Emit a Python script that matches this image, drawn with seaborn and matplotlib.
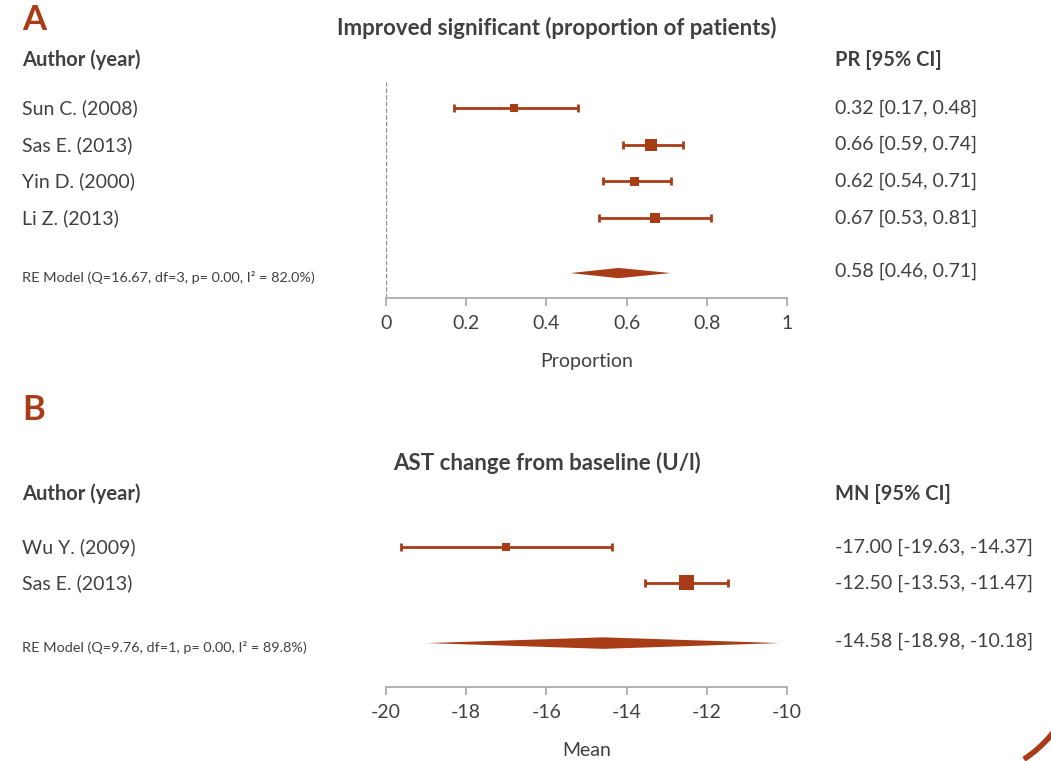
import pandas as pd
import numpy as np
import matplotlib
matplotlib.use('Agg')
import matplotlib.pyplot as plt
import matplotlib.transforms as mtransforms
from matplotlib.patches import Arc
import seaborn as sns

# data - panel A (proportion of patients improved)
a_authors = ['Sun C. (2008)', 'Sas E. (2013)', 'Yin D. (2000)', 'Li Z. (2013)']
a_est = [0.32, 0.66, 0.62, 0.67]
a_lo = [0.17, 0.59, 0.54, 0.53]
a_hi = [0.48, 0.74, 0.71, 0.81]
a_weight = [16, 37, 21, 26]
a_re = [0.58, 0.46, 0.71]
a_re_text = 'RE Model (Q=16.67, df=3, p= 0.00, I\u00b2 = 82.0%)'
a_ticks = [0, 0.2, 0.4, 0.6, 0.8, 1]
a_ticklabels = ['0', '0.2', '0.4', '0.6', '0.8', '1']

# data - panel B (AST change from baseline)
b_authors = ['Wu Y. (2009)', 'Sas E. (2013)']
b_est = [-17.00, -12.50]
b_lo = [-19.63, -13.53]
b_hi = [-14.37, -11.47]
b_weight = [22, 78]
b_re = [-14.58, -18.98, -10.18]
b_re_text = 'RE Model (Q=9.76, df=1, p= 0.00, I\u00b2 = 89.8%)'
b_ticks = [-20, -18, -16, -14, -12, -10]
b_ticklabels = ['-20', '-18', '-16', '-14', '-12', '-10']

RED = '#A83C16'
TXT = '#404040'
GREY = '#A6A6A6'
FS = 14

sns.set_theme(style='white')
plt.rcParams['font.family'] = ['Lato', 'DejaVu Sans']
plt.rcParams['axes.unicode_minus'] = False

fig = plt.figure(figsize=(10.51, 7.61), dpi=100)


def forest(ax, authors, est, lo, hi, weight, re, re_text, fmt, sizes,
           ticks, ticklabels, xlim, ylim, xlabel):
    rows = list(range(1, len(authors) + 1))
    re_row = len(authors) + 1.5 if len(authors) > 2 else len(authors) + 1.67
    df = pd.DataFrame({'author': authors, 'est': est, 'lo': lo, 'hi': hi,
                       'w': weight, 'row': rows})
    # confidence intervals
    ax.errorbar(df['est'], df['row'],
                xerr=[df['est'] - df['lo'], df['hi'] - df['est']],
                fmt='none', ecolor=RED, elinewidth=2, capsize=3, capthick=2,
                zorder=2)
    # study squares sized by weight
    sns.scatterplot(data=df, x='est', y='row', size='w', sizes=sizes,
                    marker='s', color=RED, edgecolor='none', legend=False,
                    ax=ax, zorder=3)
    # summary diamond
    h = 0.14 if len(authors) > 2 else 0.16
    ax.fill([re[1], re[0], re[2], re[0]],
            [re_row, re_row - h, re_row, re_row + h], color=RED, lw=0)

    ax.set_xlim(*xlim)
    ax.set_ylim(*ylim)
    ax.set_xticks(ticks)
    ax.set_xticklabels(ticklabels)
    ax.set_yticks([])
    ax.set_ylabel('')
    ax.set_xlabel(xlabel, fontsize=FS, color=TXT, labelpad=15)
    for s in ['top', 'right', 'left']:
        ax.spines[s].set_visible(False)
    ax.spines['bottom'].set_color(GREY)
    ax.spines['bottom'].set_linewidth(1.2)
    ax.spines['bottom'].set_bounds(ticks[0], ticks[-1])
    ax.tick_params(axis='x', bottom=True, length=6, width=1.2, color=GREY,
                   labelsize=FS, labelcolor=TXT, pad=6)

    # left and right text columns
    tr = mtransforms.blended_transform_factory(fig.transFigure, ax.transData)
    for r, a in zip(rows, authors):
        ax.text(22 / 1051, r, a, transform=tr, fontsize=FS, color=TXT,
                va='center', ha='left')
    for r, e, l, u in zip(rows, est, lo, hi):
        ax.text(835 / 1051, r, f'{e:{fmt}} [{l:{fmt}}, {u:{fmt}}]',
                transform=tr, fontsize=FS, color=TXT, va='center', ha='left')
    ax.text(22 / 1051, re_row + 0.12, re_text, transform=tr, fontsize=10.4,
            color=TXT, va='center', ha='left')
    ax.text(835 / 1051, re_row - 0.05,
            f'{re[0]:{fmt}} [{re[1]:{fmt}}, {re[2]:{fmt}}]',
            transform=tr, fontsize=FS, color=TXT, va='center', ha='left')
    return re_row


# panel A
axA = fig.add_axes([386 / 1051, 1 - 298 / 761, 401 / 1051, 216 / 761])
forest(axA, a_authors, a_est, a_lo, a_hi, a_weight, a_re, a_re_text, '.2f',
       (33, 75), a_ticks, a_ticklabels, (0, 1), (6.18, 0.29), 'Proportion')
axA.axvline(0, ls='--', color='#8C8C8C', lw=0.9, zorder=1)

# panel B
axB = fig.add_axes([386 / 1051, 1 - 687 / 761, 401 / 1051, 167 / 761])
forest(axB, b_authors, b_est, b_lo, b_hi, b_weight, b_re, b_re_text, '.2f',
       (33, 117), b_ticks, b_ticklabels, (-20, -10), (4.89, 0.25), 'Mean')

# headings
fig.text(22 / 1051, 1 - 20 / 761, 'A', fontsize=25, fontweight='bold',
         color=RED, va='center', ha='left')
fig.text(557 / 1051, 1 - 28 / 761,
         'Improved significant (proportion of patients)', fontsize=16,
         fontweight='bold', color=TXT, va='center', ha='center')
fig.text(22 / 1051, 1 - 60 / 761, 'Author (year)', fontsize=14.5,
         fontweight='bold', color=TXT, va='center', ha='left')
fig.text(835 / 1051, 1 - 60 / 761, 'PR [95% CI]', fontsize=14.5,
         fontweight='bold', color=TXT, va='center', ha='left')

fig.text(22 / 1051, 1 - 410 / 761, 'B', fontsize=25, fontweight='bold',
         color=RED, va='center', ha='left')
fig.text(547 / 1051, 1 - 463 / 761, 'AST change from baseline (U/l)',
         fontsize=16, fontweight='bold', color=TXT, va='center', ha='center')
fig.text(22 / 1051, 1 - 494 / 761, 'Author (year)', fontsize=14.5,
         fontweight='bold', color=TXT, va='center', ha='left')
fig.text(835 / 1051, 1 - 494 / 761, 'MN [95% CI]', fontsize=14.5,
         fontweight='bold', color=TXT, va='center', ha='left')

# decorative arc in the bottom-right corner
fig.patches.append(Arc((960 / 1051, 1 - 660 / 761), 236 / 1051, 236 / 761,
                       theta1=295, theta2=330, color=RED, lw=4,
                       transform=fig.transFigure))

fig.savefig('out.png', dpi=100)
